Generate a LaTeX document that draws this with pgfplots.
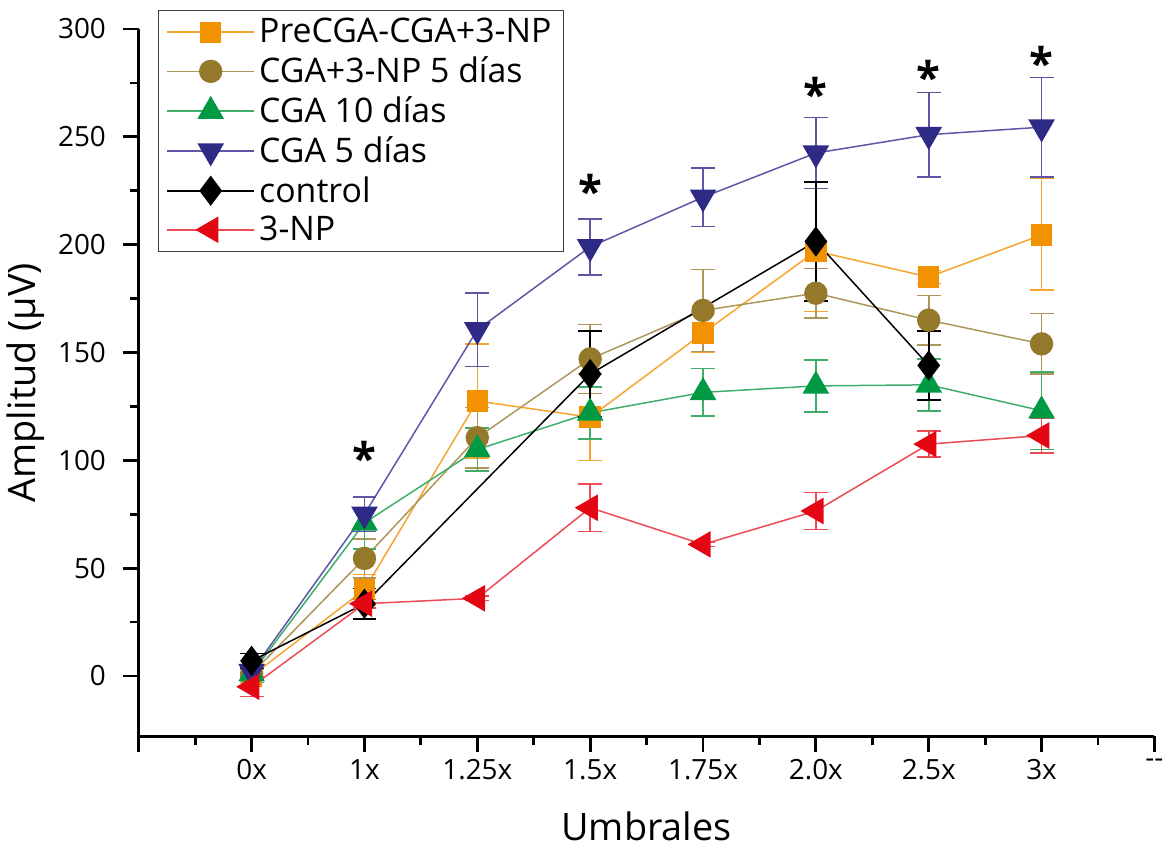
\documentclass[border=0pt]{standalone}
\usepackage{pgfplots}
\pgfplotsset{compat=1.18}
\usepackage{fontspec}
\setmainfont{Open Sans}
\usetikzlibrary{plotmarks}

\definecolor{cOra}{HTML}{F39200}
\definecolor{cOraL}{HTML}{F6A531}
\definecolor{cTan}{HTML}{94792A}
\definecolor{cTanL}{HTML}{AD965A}
\definecolor{cGre}{HTML}{009A44}
\definecolor{cGreL}{HTML}{3FAE6B}
\definecolor{cNav}{HTML}{2E2A86}
\definecolor{cNavL}{HTML}{5B57A6}
\definecolor{cRed}{HTML}{E30613}
\definecolor{cRedL}{HTML}{EC4A55}

\pgfplotsset{
  ser/.style={line width=0.75pt,
    error bars/y dir=both, error bars/y explicit,
    error bars/error bar style={line width=0.8pt},
    error bars/error mark options={rotate=90, mark size=6pt, line width=0.8pt}},
}

\begin{document}
\begin{tikzpicture}
\begin{axis}[
  scale only axis,
  width=510.5pt, height=355.5pt,
  xmin=-1, xmax=8, ymin=-28, ymax=300,
  axis x line=bottom, axis y line=left,
  axis line style={-, line width=1.5pt},
  clip=false,
  xtick={-1,0,1,2,3,4,5,6,7,8},
  xticklabels={,0x,1x,1.25x,1.5x,1.75x,2.0x,2.5x,3x,{-}{-}},
  minor xtick={-0.5,0.5,1.5,2.5,3.5,4.5,5.5,6.5,7.5},
  ytick={0,50,100,150,200,250,300},
  minor ytick={25,75,125,175,225,275},
  tick align=outside,
  major tick length=8pt, minor tick length=4.5pt,
  every tick/.style={black, line width=1.4pt},
  tick label style={font=\fontsize{14}{16}\selectfont},
  yticklabel style={xshift=-5pt},
  /pgf/number format/assume math mode=true,
  xlabel={Umbrales}, ylabel={Amplitud (µV)},
  label style={font=\fontsize{19}{22}\selectfont},
  xlabel style={yshift=-9pt},
  legend cell align=left,
  legend style={at={(0.0186,1.027)}, anchor=north west,
    font=\fontsize{17}{20}\selectfont, draw=black!75, line width=0.6pt,
    row sep=1.5pt, inner xsep=4pt, inner ysep=2pt},
  legend image code/.code={\draw[mark repeat=2,mark phase=2]
    plot coordinates {(0pt,0pt) (22pt,0pt) (44pt,0pt)};},
]
\addplot[ser, color=cOraL, mark=square*, mark size=5pt,
  mark options={fill=cOra, draw=cOra}] coordinates {
  (0,0) +- (0,3)
  (1,40) +- (0,7)
  (2,127.5) += (0,26.5) -= (0,26.5)
  (3,120) +- (0,20)
  (4,159) +- (0,9)
  (5,197) += (0,29) -= (0,28)
  (6,185) +- (0,3)
  (7,204.5) += (0,26.5) -= (0,25.5)
};
\addlegendentry{PreCGA-CGA+3-NP}
\addplot[ser, color=cTanL, mark=*, mark size=5.5pt,
  mark options={fill=cTan, draw=cTan}] coordinates {
  (0,1) +- (0,3)
  (1,54.5) +- (0,9)
  (2,110.5) +- (0,14)
  (3,147) +- (0,16)
  (4,169.5) +- (0,19)
  (5,177.5) +- (0,11.5)
  (6,165) +- (0,11.5)
  (7,154) +- (0,14)
};
\addlegendentry{CGA+3-NP 5 días}
\addplot[ser, color=cGreL, mark=triangle*, mark size=7pt,
  mark options={fill=cGre, draw=cGre}] coordinates {
  (0,1) +- (0,4)
  (1,71) +- (0,12)
  (2,105) +- (0,10)
  (3,122) +- (0,12)
  (4,131.5) +- (0,11)
  (5,134.5) +- (0,12)
  (6,135) +- (0,12)
  (7,123) +- (0,18)
};
\addlegendentry{CGA 10 días}
\addplot[ser, color=cNavL, mark=triangle*, mark size=7pt,
  mark options={fill=cNav, draw=cNav, rotate=180}] coordinates {
  (0,2) +- (0,3)
  (1,75) +- (0,8)
  (2,160.5) +- (0,17)
  (3,199) +- (0,13)
  (4,222) +- (0,13.5)
  (5,242.5) +- (0,16.5)
  (6,251) +- (0,19.5)
  (7,254.5) +- (0,23)
};
\addlegendentry{CGA 5 días}
\addplot[ser, color=black, mark=diamond*, mark size=7pt,
  mark options={fill=black}] coordinates {
  (0,7) +- (0,3.5)
  (1,33.5) +- (0,7)
  (3,140) +- (0,20)
  (5,201.5) +- (0,27.5)
  (6,144) +- (0,16)
};
\addlegendentry{control}
\addplot[ser, color=cRedL, mark=triangle*, mark size=7pt,
  mark options={fill=cRed, draw=cRed, rotate=90}] coordinates {
  (0,-5) +- (0,4.5)
  (1,33.5) +- (0,2)
  (2,36) +- (0,1)
  (3,78) +- (0,11)
  (4,61) +- (0,1)
  (5,76.5) +- (0,8.5)
  (6,107.5) +- (0,6)
  (7,111.5) +- (0,8)
};
\addlegendentry{3-NP}
\addplot[draw=none, mark=none, forget plot,
  nodes near coords={\fontsize{22}{22}\selectfont\bfseries *},
  every node near coord/.style={anchor=center, black}]
  coordinates {(1,101) (3,225) (5,270) (6,278) (7,284.5)};
\end{axis}
\path (current bounding box.north) ++(0,5pt) coordinate (padtop);
\path (padtop);
\end{tikzpicture}
\end{document}
